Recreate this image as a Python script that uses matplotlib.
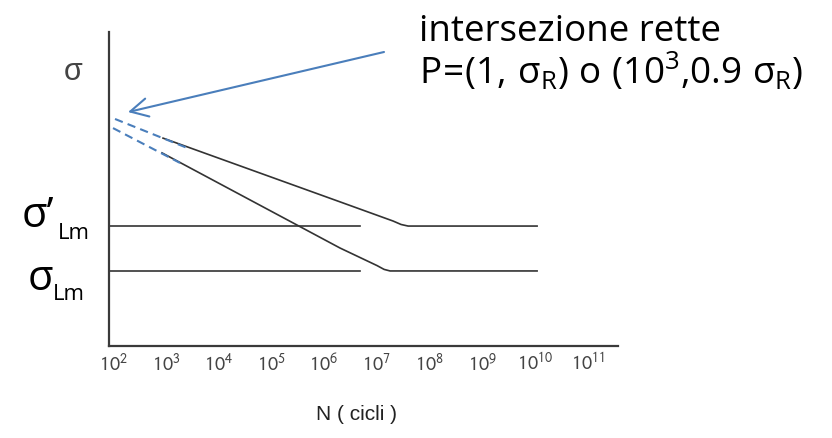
import numpy as np
import matplotlib
matplotlib.use('Agg')
import matplotlib.pyplot as plt
from matplotlib.ticker import NullLocator

plt.rcParams['mathtext.fontset'] = 'custom'
plt.rcParams['mathtext.rm'] = 'Open Sans'
plt.rcParams['mathtext.it'] = 'Open Sans:italic'
plt.rcParams['mathtext.bf'] = 'Open Sans:bold'

# schematic Woehler curves, x as log10(N), y in arbitrary stress units (0-100)
upper_logn = [2.949, 6.307, 7.313, 7.465, 7.598, 10.045]
upper_sigma = [66.2, 45.9, 39.8, 38.7, 38.2, 38.2]
lower_logn = [2.930, 6.307, 7.010, 7.142, 7.256, 10.045]
lower_sigma = [61.5, 31.2, 25.6, 24.4, 23.9, 23.9]

# dashed extrapolation back towards N = 10^2
upper_dash_logn = [2.038, 3.404]
upper_dash_sigma = [72.3, 63.1]
lower_dash_logn = [2.000, 3.271]
lower_dash_sigma = [69.4, 58.3]

# fatigue limits drawn as horizontal references
sigma_lm_prime = 38.2
sigma_lm = 23.9
ref_logn = [1.924, 6.687]

# intersection point the arrow points at
tip_logn, tip_sigma = 2.285, 74.5

decades = list(range(2, 12))
tick_labels = ['$10^{%d}$' % d for d in decades]

W, H = 832, 438
BLUE = '#4a7ebb'
DARK = '#333333'


def fx(px):
    return px / W


def fy(py):
    return 1 - py / H


fig = plt.figure(figsize=(W / 100, H / 100), dpi=100)
fig.set_facecolor('white')
ax = fig.add_axes([fx(109), fy(346), (618 - 109) / W, (346 - 32) / H])

ax.set_xscale('log')
ax.set_xlim(10 ** 1.924, 10 ** 11.58)
ax.set_ylim(0, 100)

to_n = lambda v: 10 ** np.asarray(v)

ax.plot(to_n(upper_logn), upper_sigma, color=DARK, lw=1.2, zorder=2)
ax.plot(to_n(lower_logn), lower_sigma, color=DARK, lw=1.2, zorder=2)
for s in (sigma_lm_prime, sigma_lm):
    ax.plot(to_n(ref_logn), [s, s], color=DARK, lw=1.2, zorder=2)

ax.plot(to_n(upper_dash_logn), upper_dash_sigma, color=BLUE, lw=1.5,
        dashes=(4, 2.5), zorder=3)
ax.plot(to_n(lower_dash_logn), lower_dash_sigma, color=BLUE, lw=1.5,
        dashes=(4, 2.5), zorder=3)

ax.annotate('', xy=(10 ** tip_logn, tip_sigma), xycoords='data',
            xytext=(384, H - 52), textcoords='figure pixels',
            arrowprops=dict(arrowstyle='->,head_length=12.6,head_width=6.6',
                            mutation_scale=1, color=BLUE, lw=1.5,
                            shrinkA=0, shrinkB=0))

for side in ('top', 'right'):
    ax.spines[side].set_visible(False)
for side in ('left', 'bottom'):
    ax.spines[side].set_linewidth(1.6)
    ax.spines[side].set_color('#3a3a3a')

ax.set_yticks([])
ax.xaxis.set_minor_locator(NullLocator())
ax.set_xticks(to_n(decades))
ax.set_xticklabels(tick_labels, fontsize=14.5, color='#444444')
for lab in ax.get_xticklabels():
    lab.set_math_fontfamily('stixsans')
ax.tick_params(axis='x', length=0, pad=5)

fig.text(fx(73), fy(72), 'σ', ha='center', va='center', fontsize=22,
         color='#444444', family='Liberation Sans')
fig.text(fx(357), fy(414), 'N ( cicli )', ha='center', va='center',
         fontsize=15, color='#222222', family='Liberation Sans')

# stress level labels on the left
fig.text(fx(22), fy(227), 'σ’', fontsize=30, family='Open Sans', va='baseline')
fig.text(fx(58), fy(239), 'Lm', fontsize=16, family='Open Sans', va='baseline')
fig.text(fx(28), fy(290), 'σ', fontsize=30, family='Open Sans', va='baseline')
fig.text(fx(53), fy(300), 'Lm', fontsize=16, family='Open Sans', va='baseline')

fig.text(fx(419), fy(41), 'intersezione rette', fontsize=26.5,
         family='Open Sans', va='baseline')
fig.text(fx(419), fy(84),
         r'$\mathrm{P\!=\!(1,\,σ_R)\ o\ (10^3{,}0.9\ σ_R)}$',
         fontsize=26.5, math_fontfamily='custom', va='baseline')

fig.savefig('out.png', dpi=100, facecolor=fig.get_facecolor())
